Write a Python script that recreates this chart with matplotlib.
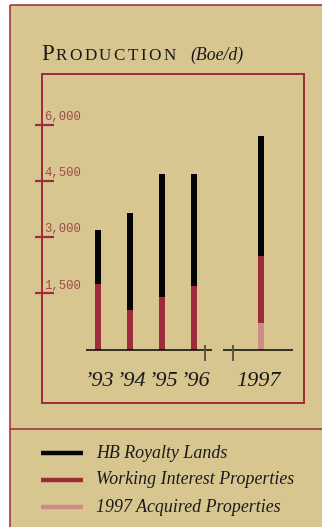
import matplotlib
matplotlib.use("Agg")
import matplotlib.pyplot as plt
from matplotlib.patches import Rectangle

# Production by year, barrels of oil equivalent per day
years = ["\u201993", "\u201994", "\u201995", "\u201996", "1997"]
working_interest = [1750, 1050, 1400, 1700, 1800]
acquired_1997 = [0, 0, 0, 0, 700]
hb_royalty = [1450, 2600, 3300, 3000, 3200]
tick_values = [1500, 3000, 4500, 6000]
tick_labels = ["1,500", "3,000", "4,500", "6,000"]
legend_labels = ["HB Royalty Lands", "Working Interest Properties", "1997 Acquired Properties"]

TAN = "#d8c691"
RED = "#9e2a3b"
LABEL_RED = "#a6464f"
PINK = "#cf8c83"
BLACK = "#050505"
TICK_GREY = "#5c5742"
SERIF = "Liberation Serif"

W, H = 322, 527
fig = plt.figure(figsize=(W / 100, H / 100), dpi=100)
fig.patch.set_facecolor("white")

# Page layer in pixel coordinates
bg = fig.add_axes([0, 0, 1, 1])
bg.set_xlim(0, W)
bg.set_ylim(H, 0)
bg.axis("off")
bg.add_patch(Rectangle((10, 5), W, H, facecolor=TAN, edgecolor="none"))
bg.plot([10, 10], [5, H + 2], color=RED, lw=1.1, solid_capstyle="butt")
bg.plot([10, W + 2], [5, 5], color=RED, lw=1.1, solid_capstyle="butt")
bg.plot([10, W + 2], [429, 429], color=RED, lw=1.1, solid_capstyle="butt")

# Chart panel (inner framed box)
box_l, box_t, box_r, box_b = 42, 74, 304, 403
ax = fig.add_axes([box_l / W, 1 - box_b / H, (box_r - box_l) / W, (box_b - box_t) / H])
ax.set_facecolor("none")
zero_px, top_px = 349.5, 125.0
per_px = 6000 / (zero_px - top_px)


def py(p):
    """pixel row -> data value"""
    return (zero_px - p) * per_px


ax.set_xlim(box_l, box_r)
ax.set_ylim(py(box_b), py(box_t))
for s in ax.spines.values():
    s.set_color(RED)
    s.set_linewidth(1.4)
ax.set_xticks([])
ax.set_yticks([])

bar_x = [98, 130, 162, 194, 261]
bar_w = 5.5
ax.bar(bar_x, working_interest, width=bar_w, bottom=acquired_1997, color=RED, linewidth=0, zorder=3)
ax.bar(bar_x, acquired_1997, width=bar_w, color=PINK, linewidth=0, zorder=3)
base2 = [a + w for a, w in zip(acquired_1997, working_interest)]
ax.bar(bar_x, hb_royalty, width=bar_w, bottom=base2, color=BLACK, linewidth=0, zorder=3)

# baseline with break marks
ax.hlines(0, 86, 212, color=BLACK, lw=1.1, zorder=4)
ax.hlines(0, 223, 293, color=BLACK, lw=1.1, zorder=4)
ax.vlines([205, 233], py(345), py(361), color=TICK_GREY, lw=1.4, zorder=4)

# y ticks crossing the frame, with labels
for v, lab in zip(tick_values, tick_labels):
    ax.hlines(v, 35, 54, color=RED, lw=1.6, clip_on=False, zorder=5)
    ax.text(44.5, v + 1.8 * per_px, lab, fontsize=8.9, family="Liberation Mono",
            color=LABEL_RED, ha="left", va="bottom", zorder=5)

# year labels
for x, lab in zip(bar_x, years):
    ax.text(x + (-3 if lab == "1997" else 1), py(381.5), lab, fontsize=16, family=SERIF,
            style="italic", color="#1a1a1a", ha="center", va="center")

# Title with small caps and tracking
renderer = fig.canvas.get_renderer()


def draw_run(x, y, s, size, track, **kw):
    for ch in s:
        t = bg.text(x, y, ch, fontsize=size, family=SERIF, color="#1a1a1a",
                    ha="left", va="baseline", **kw)
        bb = t.get_window_extent(renderer=renderer)
        x += bb.width + track
    return x


x = draw_run(41, 60, "P", 16.5, 1.5)
x = draw_run(x, 60, "RODUCTION", 12.3, 2.5)
bg.text(190, 59.5, "(Boe/d)", fontsize=12.8, family=SERIF, style="italic",
        color="#1a1a1a", ha="left", va="baseline")

# Legend
leg_y = [453, 480, 507]
leg_c = [BLACK, RED, PINK]
for yy, c, lab in zip(leg_y, leg_c, legend_labels):
    bg.plot([41, 83], [yy, yy], color=c, lw=3.2, solid_capstyle="butt")
    bg.text(96, yy + 4.5, lab, fontsize=12.9, family=SERIF, style="italic",
            color="#1a1a1a", ha="left", va="baseline")

fig.savefig("out.png", dpi=100, facecolor=fig.get_facecolor())
